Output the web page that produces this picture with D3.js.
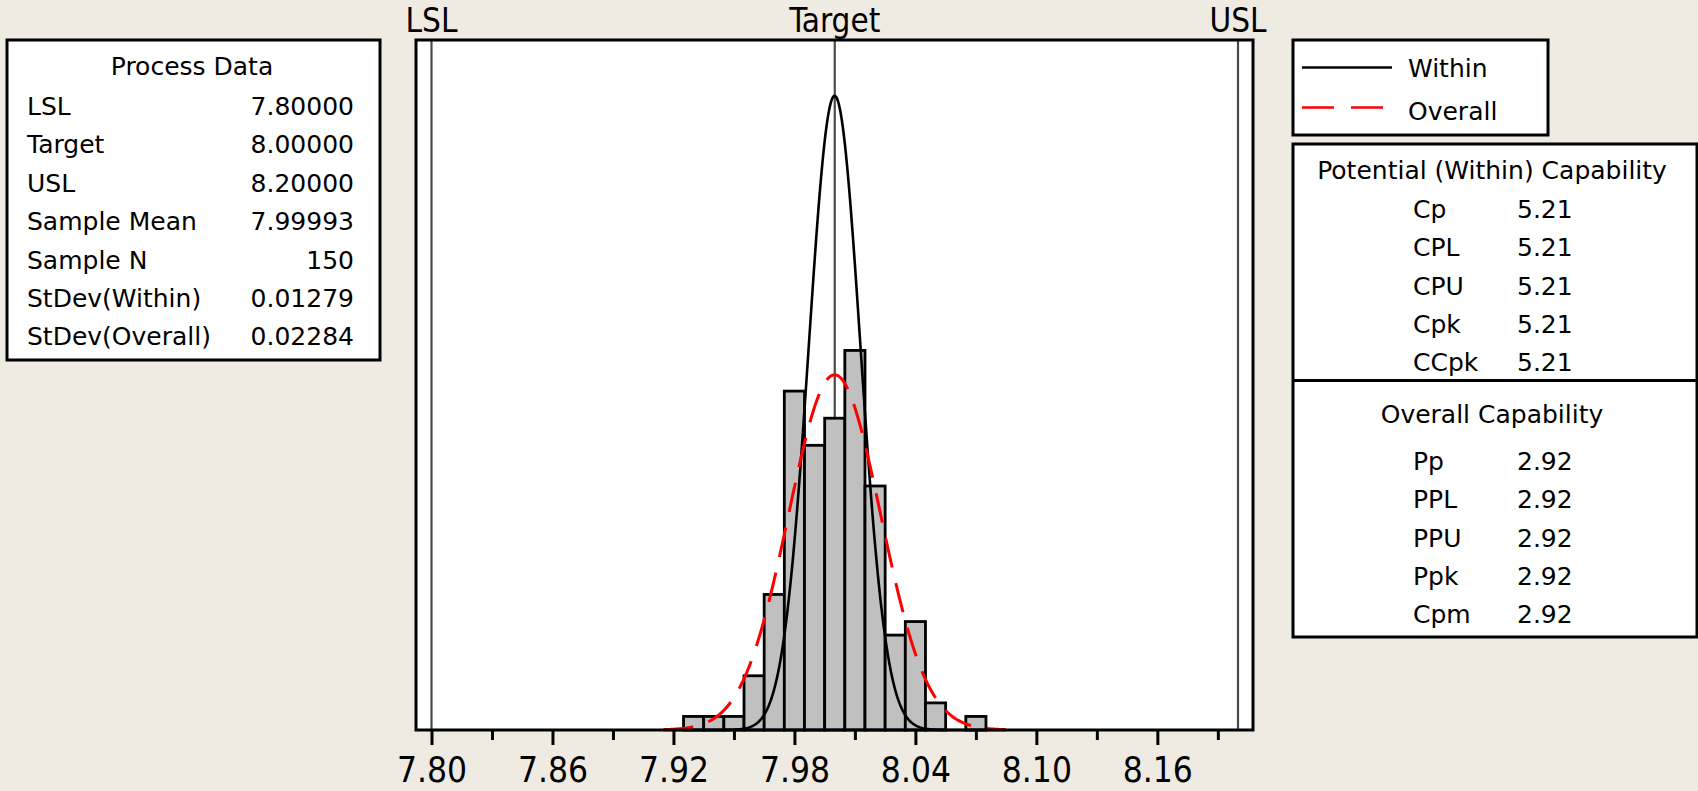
<!DOCTYPE html>
<html>
<head>
<meta charset="utf-8">
<script src="https://cdn.jsdelivr.net/npm/d3@7"></script>
<style>
    html, body { margin: 0; padding: 0; background: #efebe2; }
    svg { display: block; }
    .tbl text { font-family: "DejaVu Sans", Verdana, sans-serif; font-size: 25px; fill: #000; }
    .axis text, .spec-label { font-family: "DejaVu Sans Condensed", "Liberation Sans Narrow", "DejaVu Sans", sans-serif; }
</style>
</head>
<body>
<script>
(function () {
    'use strict';

    // histogram bins (centre of bin) and counts
    var binCenters = [7.93, 7.94, 7.95, 7.96, 7.97, 7.98, 7.99, 8.00, 8.01, 8.02, 8.03, 8.04, 8.05, 8.06, 8.07];
    var binCounts = [1, 1, 1, 4, 10, 25, 21, 23, 28, 18, 7, 8, 2, 0, 1];
    var binWidth = 0.01;

    var specNames = ['LSL', 'Target', 'USL'];
    var specValues = [7.80, 8.00, 8.20];

    var sampleMean = 7.99993;
    var sampleN = 150;
    var stdevWithin = 0.01279;
    var stdevOverall = 0.02284;

    var majorTicks = [7.80, 7.86, 7.92, 7.98, 8.04, 8.10, 8.16];
    var minorTicks = [7.83, 7.89, 7.95, 8.01, 8.07, 8.13, 8.19];

    var processLabels = ['LSL', 'Target', 'USL', 'Sample Mean', 'Sample N', 'StDev(Within)', 'StDev(Overall)'];
    var processValues = ['7.80000', '8.00000', '8.20000', '7.99993', '150', '0.01279', '0.02284'];

    var withinLabels = ['Cp', 'CPL', 'CPU', 'Cpk', 'CCpk'];
    var withinValues = ['5.21', '5.21', '5.21', '5.21', '5.21'];
    var overallLabels = ['Pp', 'PPL', 'PPU', 'Ppk', 'Cpm'];
    var overallValues = ['2.92', '2.92', '2.92', '2.92', '2.92'];

    var W = 1698, H = 791;
    var plot = {left: 416, right: 1253, top: 40, bottom: 730};

    var svg = d3.select('body').append('svg')
        .attr('width', W)
        .attr('height', H);

    svg.append('rect')
        .attr('width', W).attr('height', H)
        .attr('fill', '#efebe2');

    var x = d3.scaleLinear()
        .domain([7.80, 8.20])
        .range([431.5, 1238]);

    var y = d3.scaleLinear()
        .domain([0, 50.9])
        .range([plot.bottom, plot.top]);

    // plot area
    svg.append('rect')
        .attr('x', plot.left).attr('y', plot.top)
        .attr('width', plot.right - plot.left)
        .attr('height', plot.bottom - plot.top)
        .attr('fill', '#fff');

    svg.selectAll('line.spec')
        .data(specValues)
        .enter().append('line')
        .attr('class', 'spec')
        .attr('x1', function (d) { return x(d); })
        .attr('x2', function (d) { return x(d); })
        .attr('y1', plot.top)
        .attr('y2', plot.bottom)
        .attr('stroke', '#4a4a4a')
        .attr('stroke-width', 2.2);

    svg.selectAll('text.spec-label')
        .data(specNames)
        .enter().append('text')
        .attr('class', 'spec-label')
        .attr('x', function (d, i) { return x(specValues[i]); })
        .attr('y', 32)
        .attr('text-anchor', 'middle')
        .attr('font-size', 33)
        .text(function (d) { return d; });

    var bins = binCenters.map(function (c, i) { return {x0: c - binWidth / 2, x1: c + binWidth / 2, n: binCounts[i]}; });

    svg.append('g')
        .selectAll('rect')
        .data(bins.filter(function (d) { return d.n > 0; }))
        .enter().append('rect')
        .attr('x', function (d) { return x(d.x0); })
        .attr('y', function (d) { return y(d.n); })
        .attr('width', function (d) { return x(d.x1) - x(d.x0); })
        .attr('height', function (d) { return y(0) - y(d.n); })
        .attr('fill', '#c0c0c0')
        .attr('stroke', '#000')
        .attr('stroke-width', 2.8);

    // fitted normal curves, scaled to counts per bin
    function normalCurve(sd) {
        var pts = [];
        for (var v = 7.915; v <= 8.0851; v += 0.0005) {
            var z = (v - sampleMean) / sd;
            pts.push([v, sampleN * binWidth * Math.exp(-0.5 * z * z) / (sd * Math.sqrt(2 * Math.PI))]);
        }
        return pts;
    }

    var line = d3.line()
        .x(function (d) { return x(d[0]); })
        .y(function (d) { return y(d[1]); });

    svg.append('path')
        .datum(normalCurve(stdevWithin))
        .attr('d', line)
        .attr('fill', 'none')
        .attr('stroke', '#000')
        .attr('stroke-width', 2.6);

    svg.append('path')
        .datum(normalCurve(stdevOverall))
        .attr('d', line)
        .attr('fill', 'none')
        .attr('stroke', '#ff0000')
        .attr('stroke-width', 3)
        .attr('stroke-dasharray', '30 16');

    // x axis
    var axisG = svg.append('g')
        .attr('class', 'axis')
        .attr('transform', 'translate(0,' + plot.bottom + ')');

    axisG.call(d3.axisBottom(x)
        .tickValues(majorTicks)
        .tickSize(15)
        .tickPadding(12.5)
        .tickFormat(d3.format('.2f')));

    axisG.append('g').call(d3.axisBottom(x)
        .tickValues(minorTicks)
        .tickSize(10)
        .tickFormat(''));

    axisG.selectAll('.domain').remove();
    axisG.selectAll('.tick line').attr('stroke', '#000').attr('stroke-width', 3);
    axisG.selectAll('.tick text')
        .attr('font-size', 35)
        .attr('fill', '#000');

    svg.append('rect')
        .attr('x', plot.left).attr('y', plot.top)
        .attr('width', plot.right - plot.left)
        .attr('height', plot.bottom - plot.top)
        .attr('fill', 'none')
        .attr('stroke', '#000')
        .attr('stroke-width', 3);

    // process data table
    var pd = svg.append('g').attr('class', 'tbl');
    pd.append('rect')
        .attr('x', 7).attr('y', 40).attr('width', 373).attr('height', 320)
        .attr('fill', '#fff').attr('stroke', '#000').attr('stroke-width', 3);
    pd.append('text')
        .attr('x', 192).attr('y', 75)
        .attr('text-anchor', 'middle')
        .text('Process Data');
    pd.selectAll('text.lbl')
        .data(processLabels)
        .enter().append('text')
        .attr('class', 'lbl')
        .attr('x', 27)
        .attr('y', function (d, i) { return 115 + i * 38.4; })
        .text(function (d) { return d; });
    pd.selectAll('text.val')
        .data(processValues)
        .enter().append('text')
        .attr('class', 'val')
        .attr('x', 354)
        .attr('y', function (d, i) { return 115 + i * 38.4; })
        .attr('text-anchor', 'end')
        .text(function (d) { return d; });

    // legend
    var lg = svg.append('g').attr('class', 'tbl');
    lg.append('rect')
        .attr('x', 1293).attr('y', 40).attr('width', 255).attr('height', 95)
        .attr('fill', '#fff').attr('stroke', '#000').attr('stroke-width', 3);
    lg.append('line')
        .attr('x1', 1302).attr('x2', 1392).attr('y1', 67.5).attr('y2', 67.5)
        .attr('stroke', '#000').attr('stroke-width', 2.6);
    lg.append('line')
        .attr('x1', 1302).attr('x2', 1383).attr('y1', 107.5).attr('y2', 107.5)
        .attr('stroke', '#ff0000').attr('stroke-width', 2.6)
        .attr('stroke-dasharray', '32 17');
    lg.append('text').attr('x', 1408).attr('y', 77).text('Within');
    lg.append('text').attr('x', 1408).attr('y', 120).text('Overall');

    // capability table
    var cap = svg.append('g').attr('class', 'tbl');
    cap.append('rect')
        .attr('x', 1293).attr('y', 144).attr('width', 404).attr('height', 493)
        .attr('fill', '#fff').attr('stroke', '#000').attr('stroke-width', 3);
    cap.append('line')
        .attr('x1', 1293).attr('x2', 1697).attr('y1', 380.5).attr('y2', 380.5)
        .attr('stroke', '#000').attr('stroke-width', 3);
    cap.append('text')
        .attr('x', 1492).attr('y', 179)
        .attr('text-anchor', 'middle')
        .text('Potential (Within) Capability');
    cap.append('text')
        .attr('x', 1492).attr('y', 423)
        .attr('text-anchor', 'middle')
        .text('Overall Capability');

    function rows(labels, values, y0) {
        cap.append('g').selectAll('text')
            .data(labels)
            .enter().append('text')
            .attr('x', 1413)
            .attr('y', function (d, i) { return y0 + i * 38.3; })
            .text(function (d) { return d; });
        cap.append('g').selectAll('text')
            .data(values)
            .enter().append('text')
            .attr('x', 1517)
            .attr('y', function (d, i) { return y0 + i * 38.3; })
            .text(function (d) { return d; });
    }
    rows(withinLabels, withinValues, 218);
    rows(overallLabels, overallValues, 470);
})();
</script>
</body>
</html>
